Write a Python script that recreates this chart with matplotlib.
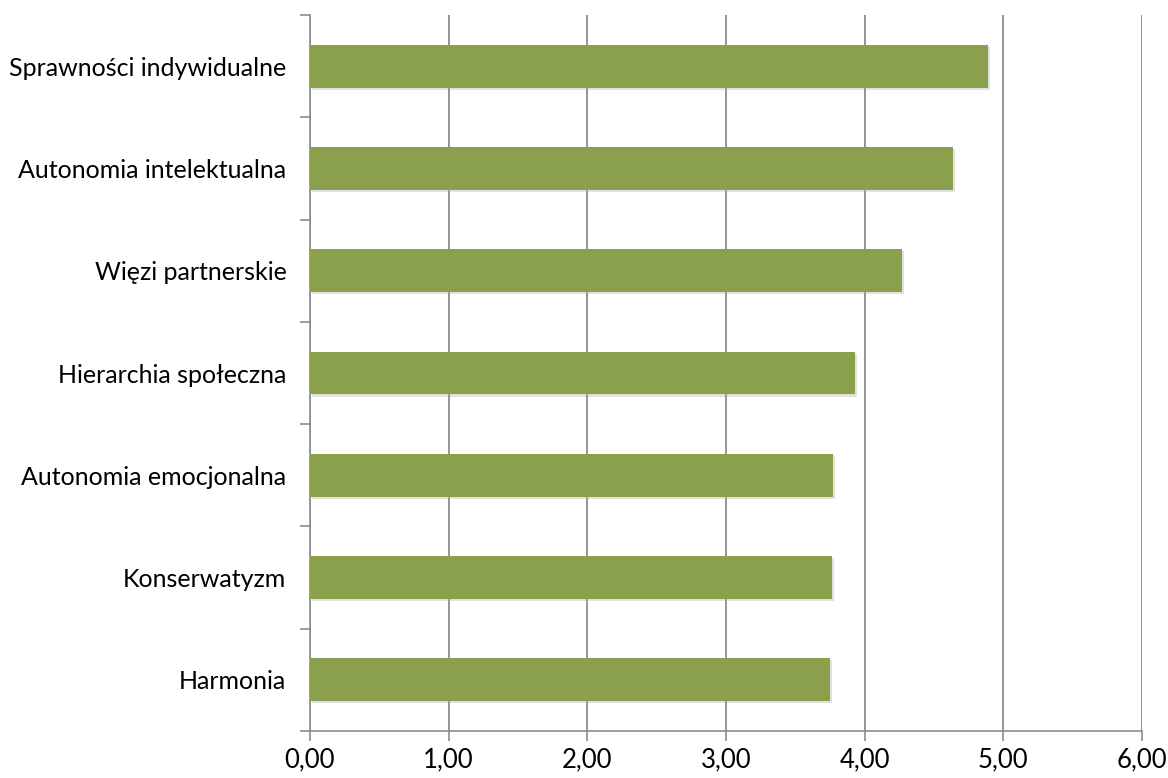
import matplotlib
matplotlib.use("Agg")
import matplotlib.pyplot as plt
import matplotlib.patheffects as pe
import numpy as np

# dane (od dołu do góry)
kategorie = ["Harmonia", "Konserwatyzm", "Autonomia emocjonalna",
             "Hierarchia społeczna", "Więzi partnerskie",
             "Autonomia intelektualna", "Sprawności indywidualne"]
wartosci = [3.75, 3.765, 3.77, 3.93, 4.27, 4.64, 4.89]
xticks = [0, 1, 2, 3, 4, 5, 6]
xlabels = ["0,00", "1,00", "2,00", "3,00", "4,00", "5,00", "6,00"]

plt.rcParams['font.family'] = ['Lato', 'DejaVu Sans']

fig = plt.figure(figsize=(11.68, 7.78), dpi=100)
ax = fig.add_axes([0.2654, 0.0604, 0.7123, 0.9203])

y = np.arange(len(kategorie))
bars = ax.barh(y, wartosci, height=0.42, color="#8BA04D", zorder=3)
for b in bars:
    b.set_path_effects([pe.SimplePatchShadow(offset=(1.5, -1.5), shadow_rgbFace="#aaaaaa", alpha=0.35),
                        pe.Normal()])

ax.set_xlim(0, 6)
ax.set_ylim(-0.5, len(kategorie) - 0.5)
ax.set_xticks(xticks)
ax.set_xticklabels(xlabels, fontsize=18.5)
ax.set_yticks(y)
ax.set_yticklabels(kategorie, fontsize=18)
ax.set_yticks(np.arange(-0.5, len(kategorie)), minor=True)

ax.grid(axis="x", color="#8c8c8c", linewidth=1.3, zorder=0)
ax.tick_params(axis="y", which="major", length=0, pad=17)
ax.tick_params(axis="y", which="minor", length=7, color="#8c8c8c", width=1.2)
ax.tick_params(axis="x", length=7, color="#8c8c8c", width=1.2, pad=5)

for s in ["top", "right"]:
    ax.spines[s].set_visible(False)
for s in ["left", "bottom"]:
    ax.spines[s].set_color("#8c8c8c")
    ax.spines[s].set_linewidth(1.2)

plt.savefig("out.png", dpi=100)
